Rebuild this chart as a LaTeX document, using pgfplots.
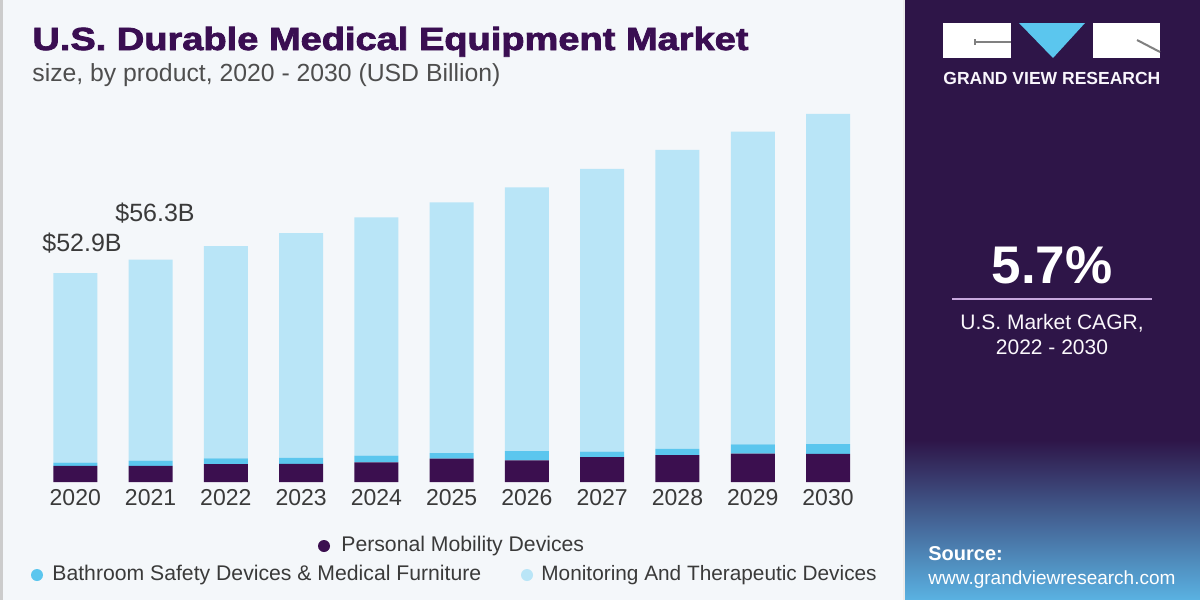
\documentclass[border=0pt]{standalone}
\usepackage{fontspec}
\setmainfont{Liberation Sans}
\newfontfamily\titlefont[BoldFeatures={FakeBold=2.2}]{Liberation Sans}
\usepackage{pgfplots}
\pgfplotsset{compat=1.18}
\usepackage{pgfplotstable}

\definecolor{bgc}{HTML}{F4F7FA}
\definecolor{panel}{HTML}{2E1548}
\definecolor{pmd}{HTML}{3B0F4F}
\definecolor{bath}{HTML}{5BC6EE}
\definecolor{mon}{HTML}{B9E5F7}
\definecolor{titlec}{HTML}{3A0E52}
\definecolor{txt}{HTML}{3A3A3A}
\definecolor{gblue}{HTML}{5AB2E2}
\definecolor{gmid}{HTML}{43579E}
\definecolor{lav}{HTML}{C8A8DE}

\pgfplotstableread{
x   pmd  bath  mon
0   4.1  0.8   48.0
1   4.1  1.3   50.9
2   4.5  1.5   53.7
3   4.6  1.5   56.9
4   5.0  1.7   60.3
5   5.9  1.4   63.5
6   5.5  2.3   66.8
7   6.3  1.4   71.6
8   6.8  1.6   75.7
9   7.2  2.3   79.2
10  7.1  2.5   83.6
}\datatable

\begin{document}
\begin{tikzpicture}
\begin{scope}[x=0.5pt,y=-0.5pt]
  \fill[bgc] (0,0) rectangle (1200,600);
  \draw[gray!40, line width=1.5] (1.5,0) -- (1.5,600);
  \fill[panel] (905,0) rectangle (1200,600);
  \shade[top color=panel, middle color=gmid, bottom color=gblue] (905,440) rectangle (1200,600);
  \fill[white!85!gray] (903,0) rectangle (905,600);
\end{scope}

\begin{axis}[
  at={(0pt,-241pt)}, anchor=south west,
  scale only axis, width=451.65pt, height=237pt,
  xmin=-1, xmax=11, ymin=0, ymax=120,
  enlargelimits=false, clip=false,
  ybar stacked, bar width=22pt,
  axis line style={draw=none},
  ytick=\empty,
  xtick={0,...,10},
  xticklabels={2020,2021,2022,2023,2024,2025,2026,2027,2028,2029,2030},
  major tick length=0pt,
  xticklabel style={font=\fontsize{11.5}{13}\selectfont, text=txt},
]
\addplot[fill=pmd, draw=none] table[x=x, y=pmd]{\datatable};
\addplot[fill=bath, draw=none] table[x=x, y=bath]{\datatable};
\addplot[fill=mon, draw=none] table[x=x, y=mon]{\datatable};
\node[font=\fontsize{12.5}{14}\selectfont, text=txt] at (axis cs:0.09,60.5) {\$52.9B};
\node[font=\fontsize{12.5}{14}\selectfont, text=txt] at (axis cs:1.06,68.1) {\$56.3B};
\end{axis}

\begin{scope}[x=0.5pt,y=-0.5pt]
  % title
  \node[anchor=base west, inner sep=0, text=titlec] at (32,50)
    {\resizebox{358pt}{11.6pt}{\titlefont\bfseries U.S. Durable Medical Equipment Market}};
  \node[anchor=base west, inner sep=0, text=txt!90] at (32,81)
    {\resizebox{234pt}{!}{\fontsize{11}{13}\selectfont size, by product, 2020 - 2030 (USD Billion)}};
  % legend
  \fill[pmd] (324,546) circle (6);
  \node[anchor=west, inner sep=0, text=txt, font=\fontsize{10.6}{12}\selectfont] at (341,546) {Personal Mobility Devices};
  \fill[bath] (37,575) circle (6);
  \node[anchor=west, inner sep=0, text=txt, font=\fontsize{10.6}{12}\selectfont] at (52,575) {Bathroom Safety Devices \& Medical Furniture};
  \fill[mon] (527,575) circle (6);
  \node[anchor=west, inner sep=0, text=txt, font=\fontsize{10.4}{12}\selectfont] at (541,575) {Monitoring And Therapeutic Devices};
  % logo
  \fill[white] (943,23) rectangle (1011,58);
  \draw[gray, line width=1] (975,42) -- (1011,42);
  \draw[gray, line width=1] (975,39) -- (975,45);
  \fill[bath] (1019,23) -- (1085,23) -- (1053,58) -- cycle;
  \fill[white] (1093,23) rectangle (1160,58);
  \draw[gray, line width=1] (1137,40) -- (1160,52);
  \node[anchor=base west, inner sep=0, text=white!90!lav] at (943,84)
    {\resizebox{108.5pt}{!}{\bfseries\fontsize{8.4}{10}\selectfont GRAND VIEW RESEARCH}};
  % CAGR
  \node[anchor=base, inner sep=0, text=white] at (1052,283)
    {\fontsize{26.5}{30}\selectfont\bfseries 5.7\%};
  \draw[lav, line width=1.3pt] (952,299) -- (1152,299);
  \node[anchor=base, inner sep=0, text=white!92!lav, font=\fontsize{10.5}{12}\selectfont] at (1052,329) {U.S. Market CAGR,};
  \node[anchor=base, inner sep=0, text=white!92!lav, font=\fontsize{10.5}{12}\selectfont] at (1052,354) {2022 - 2030};
  % source
  \node[anchor=base west, inner sep=0, text=white, font=\fontsize{10}{12}\selectfont\bfseries] at (928,560) {Source:};
  \node[anchor=base west, inner sep=0, text=white, font=\fontsize{9.5}{12}\selectfont] at (928,584) {www.grandviewresearch.com};
\end{scope}
\pgfresetboundingbox
\path (0pt,0pt) rectangle (600pt,-300pt);
\end{tikzpicture}
\end{document}
